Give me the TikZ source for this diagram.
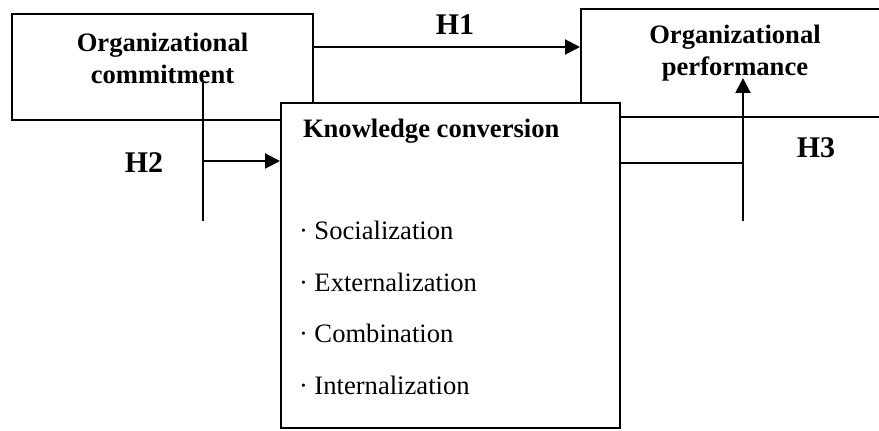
\documentclass[tikz,border=0pt]{standalone}
\usepackage{fontspec}
\setmainfont{Liberation Serif}
\usetikzlibrary{arrows.meta, positioning}

\begin{document}
\begin{tikzpicture}[x=0.5pt, y=-0.5pt, line width=1pt,
    >={Triangle[length=7.5pt, width=7.5pt]},
    box/.style={draw, fill=white, rectangle, inner sep=0pt},
    txt/.style={font=\fontsize{13.3}{16}\selectfont\bfseries, align=center, inner sep=0pt},
    hyp/.style={font=\fontsize{15}{16}\selectfont\bfseries, anchor=base, inner sep=0pt},
    item/.style={font=\fontsize{13.3}{16}\selectfont, anchor=base west, inner sep=0pt}]

    \clip (0,0) rectangle (879,431);

    \node [box, minimum width=150.5pt, minimum height=53pt] (oc) at (162.5,67) {};
    \node [box, minimum width=160pt, minimum height=54pt] (op) at (741,63) {};
    \node [box, minimum width=169.5pt, minimum height=162.5pt] (kc) at (450.5,265.5) {};

    \node [txt] (octext) at (162.5,58) {Organizational\\commitment};
    \node [txt] (optext) at (735,53) {Organizational\\performance};
    \node [txt, anchor=base west] (kctext) at (302,138) {Knowledge conversion};
    \node [item] (soc) at (298,240) {· Socialization};
    \node [item] (ext) at (298,291.5) {· Externalization};
    \node [item] (com) at (298,343) {· Combination};
    \node [item] (int) at (298,394.5) {· Internalization};

    \node [hyp] (h1) at (455,35) {H1};
    \node [hyp] (h2) at (144,173) {H2};
    \node [hyp] (h3) at (816,158) {H3};

    \path (oc.north east) ++(0,34) coordinate (h1s);
    \coordinate (v2top) at (203,83);
    \coordinate (v2bot) at (203,221);
    \coordinate (h2s) at (203,161);
    \coordinate (h3c) at (743,163);
    \coordinate (v3bot) at (743,221);
    \coordinate (v3top) at (743,78);

    \draw [->] (h1s) -- (h1s -| op.west);
    \draw (v2top) -- (v2bot);
    \draw [->] (h2s) -- (h2s -| kc.west);
    \draw [line width=0.6pt] (kc.east |- h3c) -- (h3c);
    \draw [->] (v3bot) -- (v3top);
\end{tikzpicture}
\end{document}
